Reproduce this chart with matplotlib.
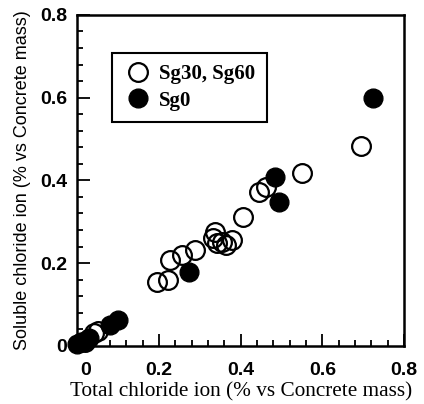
import matplotlib
matplotlib.use("Agg")
import matplotlib.pyplot as plt
import matplotlib.transforms as mtransforms
from matplotlib.ticker import MultipleLocator

# Sg30, Sg60 (open circles)
open_x = [0.02, 0.04, 0.05, 0.195, 0.222, 0.227, 0.256, 0.288, 0.332, 0.337,
          0.341, 0.354, 0.365, 0.378, 0.405, 0.446, 0.463, 0.551, 0.695]
open_y = [0.01, 0.03, 0.035, 0.154, 0.159, 0.207, 0.219, 0.231, 0.26, 0.275,
          0.248, 0.25, 0.243, 0.255, 0.311, 0.371, 0.383, 0.417, 0.482]

# Sg0 (filled circles)
fill_x = [0.0, 0.01, 0.02, 0.03, 0.08, 0.10, 0.273, 0.483, 0.495, 0.724]
fill_y = [0.005, 0.01, 0.012, 0.02, 0.05, 0.063, 0.178, 0.407, 0.347, 0.598]

ticks = [0, 0.2, 0.4, 0.6, 0.8]
tick_labels = ['0', '0.2', '0.4', '0.6', '0.8']

fig = plt.figure(figsize=(4.24, 4.04), dpi=100)
ax = fig.add_axes([0.182, 0.144, 0.771, 0.819])

ax.plot(open_x, open_y, 'o', ms=13.5, mfc='none', mec='black', mew=1.6,
        label='Sg30, Sg60', clip_on=False)
ax.plot(fill_x, fill_y, 'o', ms=13.5, mfc='black', mec='black', mew=1,
        label='Sg0', clip_on=False)

ax.set_xlim(0, 0.8)
ax.set_ylim(0, 0.8)
ax.set_xticks(ticks)
ax.set_yticks(ticks)
ax.set_xticklabels(tick_labels)
ax.set_yticklabels(tick_labels)
ax.xaxis.set_minor_locator(MultipleLocator(0.04))
ax.yaxis.set_minor_locator(MultipleLocator(0.04))
ax.tick_params(which='both', direction='in', width=1.3, top=False, right=False)
ax.tick_params(which='major', length=9)
ax.tick_params(which='minor', length=4.5)
ax.tick_params(axis='x', which='major', pad=12)
ax.tick_params(axis='y', which='major', pad=7)
for lab in ax.get_xticklabels() + ax.get_yticklabels():
    lab.set_family('Liberation Sans')
    lab.set_weight('bold')
    lab.set_fontsize(14)
for s in ax.spines.values():
    s.set_linewidth(1.8)

# the "0" under the x axis sits a little to the right in the original
xl0 = ax.get_xticklabels()[0]
xl0.set_transform(xl0.get_transform() +
                  mtransforms.ScaledTranslation(0.08, 0, fig.dpi_scale_trans))

ax.set_xlabel('Total chloride ion (% vs Concrete mass)', family='Liberation Serif',
              fontsize=15.3, labelpad=2)
ax.set_ylabel('Soluble chloride ion (% vs Concrete mass)', family='Liberation Sans',
              fontsize=13, labelpad=7)

leg = ax.legend(loc='upper left', bbox_to_anchor=(0.107, 0.885), borderaxespad=0,
                fancybox=False, edgecolor='black', framealpha=1, borderpad=0.55,
                handlelength=1.4, handletextpad=0.3, labelspacing=0.3,
                prop={'family': 'Liberation Serif', 'size': 15, 'weight': 'bold'})
leg.get_frame().set_linewidth(1.5)

fig.savefig('out.png', dpi=100)
